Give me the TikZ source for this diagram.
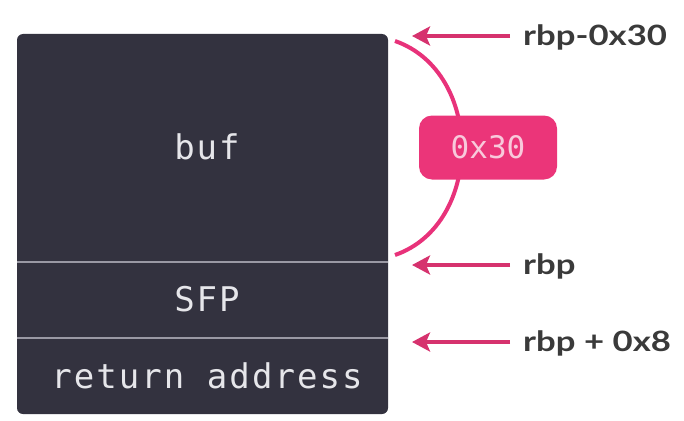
\documentclass[tikz,border=0pt]{standalone}
\usepackage{fontspec}
\usepackage{graphicx}
\setmainfont{Lato}
\setmonofont{DejaVu Sans Mono}
\usetikzlibrary{arrows.meta}

\definecolor{stackbg}{HTML}{33323F}
\definecolor{stackline}{HTML}{9A99A4}
\definecolor{stacktext}{HTML}{E6E6EA}
\definecolor{pinkarc}{HTML}{E8327A}
\definecolor{pinkbadge}{HTML}{EB3579}
\definecolor{badgetext}{HTML}{F8C9DB}
\definecolor{pinkarrow}{HTML}{D6326E}
\definecolor{labeltext}{HTML}{3A3A3A}

\newcommand{\widetext}[1]{\scalebox{1.24}[1]{#1}}

\tikzset{
  cell/.style={text=stacktext,inner sep=0pt,
    font=\ttfamily\fontsize{34}{34}\selectfont\addfontfeature{LetterSpace=6}},
  ptr/.style={draw=pinkarrow,line width=4.5pt,shorten <=13pt,
    -{Stealth[length=18pt,width=19pt,inset=4pt]}},
  reg/.style={text=labeltext,anchor=west,inner sep=0pt,
    font=\bfseries\fontsize{28}{28}\selectfont},
}

\begin{document}
\begin{tikzpicture}[x=1pt,y=-1pt]
\useasboundingbox (0,0) rectangle (684,420);
% stack frame
\fill[stackbg,rounded corners=6pt] (17,34) rectangle (388,414);
\draw[stackline,line width=2pt] (17,262) -- (388,262);
\draw[stackline,line width=2pt] (17,338) -- (388,338);
\node[cell] (buf) at (207,147) {buf};
\node[cell] (sfp) at (207,299) {SFP};
\node[cell] (ret) at (207,376) {return address};
% size of buf
\coordinate (top) at (395,41);
\coordinate (bot) at (395,255);
\draw[pinkarc,line width=4pt] (top) .. controls (484,72) and (484,224) .. (bot);
\node[fill=pinkbadge,rounded corners=13pt,minimum width=138pt,minimum height=64pt,
  text=badgetext,font=\ttfamily\fontsize{31}{31}\selectfont] (size) at (488,147.5) {0x30};
% registers
\node[reg] (lo) at (523,37) {\widetext{rbp-0x30}};
\node[reg] (bp) at (523,266) {\widetext{rbp}};
\node[reg] (hi) at (523,343) {\widetext{rbp + 0x8}};
\coordinate (lotip) at (412,36);
\coordinate (bptip) at (412,265);
\coordinate (hitip) at (412,342);
\draw[ptr] (lo.west |- lotip) -- (lotip);
\draw[ptr] (bp.west |- bptip) -- (bptip);
\draw[ptr] (hi.west |- hitip) -- (hitip);
\end{tikzpicture}
\end{document}
